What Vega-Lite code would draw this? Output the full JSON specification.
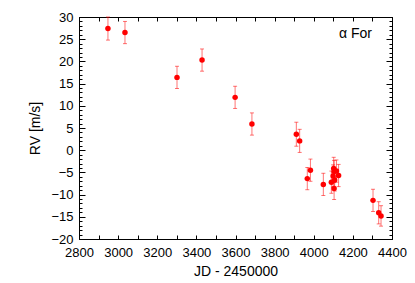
{
  "$schema": "https://vega.github.io/schema/vega-lite/v6.json",
  "width": 313,
  "height": 222,
  "autosize": "none",
  "padding": {"left": 79, "top": 17, "right": 23, "bottom": 44},
  "background": "white",
  "config": {
    "view": {"stroke": "black", "strokeWidth": 1},
    "font": "Liberation Sans",
    "axis": {
      "domainColor": "black",
      "tickColor": "black",
      "labelColor": "black",
      "titleColor": "black",
      "labelFont": "Liberation Sans",
      "titleFont": "Liberation Sans",
      "labelFontSize": 13,
      "titleFontSize": 14,
      "titleFontWeight": "normal",
      "grid": false
    }
  },
  "title": {
    "text": "α For",
    "anchor": "end",
    "frame": "group",
    "orient": "top",
    "offset": -30,
    "dx": -20,
    "fontSize": 14,
    "fontWeight": "normal",
    "font": "Liberation Sans",
    "color": "black"
  },
  "data": {
    "values": [
      {"jd": 2948, "rv": 27.4, "lo": 24.8, "hi": 30.0},
      {"jd": 3035, "rv": 26.5, "lo": 24.0, "hi": 29.0},
      {"jd": 3301, "rv": 16.4, "lo": 13.9, "hi": 18.9},
      {"jd": 3429, "rv": 20.3, "lo": 17.8, "hi": 22.8},
      {"jd": 3598, "rv": 11.9, "lo": 9.4, "hi": 14.4},
      {"jd": 3684, "rv": 5.9, "lo": 3.4, "hi": 8.4},
      {"jd": 3911, "rv": 3.6, "lo": 0.9, "hi": 6.3},
      {"jd": 3928, "rv": 2.1, "lo": -0.5, "hi": 4.7},
      {"jd": 3967, "rv": -6.4, "lo": -8.9, "hi": -3.9},
      {"jd": 3983, "rv": -4.5, "lo": -7.0, "hi": -2.0},
      {"jd": 4049, "rv": -7.7, "lo": -10.2, "hi": -5.2},
      {"jd": 4090, "rv": -7.2, "lo": -9.7, "hi": -4.7},
      {"jd": 4099, "rv": -5.8, "lo": -8.3, "hi": -3.3},
      {"jd": 4102, "rv": -4.1, "lo": -6.6, "hi": -1.6},
      {"jd": 4104, "rv": -4.8, "lo": -7.3, "hi": -2.3},
      {"jd": 4104, "rv": -8.6, "lo": -11.1, "hi": -6.1},
      {"jd": 4107, "rv": -6.7, "lo": -9.2, "hi": -4.2},
      {"jd": 4116, "rv": -4.7, "lo": -7.2, "hi": -2.2},
      {"jd": 4127, "rv": -5.7, "lo": -8.2, "hi": -3.2},
      {"jd": 4303, "rv": -11.3, "lo": -13.8, "hi": -8.8},
      {"jd": 4332, "rv": -14.1, "lo": -16.6, "hi": -11.6},
      {"jd": 4344, "rv": -14.8, "lo": -17.1, "hi": -12.5}
    ]
  },
  "layer": [
    {
      "mark": {"type": "errorbar", "ticks": {"size": 4, "thickness": 1}, "color": "#ff0000", "opacity": 0.55, "thickness": 1},
      "encoding": {
        "x": {
          "field": "jd", "type": "quantitative",
          "scale": {"domain": [2800, 4400], "nice": false, "zero": false},
          "axis": {
            "orient": "bottom",
            "title": "JD - 2450000",
            "values": [2800, 2900, 3000, 3100, 3200, 3300, 3400, 3500, 3600, 3700, 3800, 3900, 4000, 4100, 4200, 4300, 4400],
            "labelExpr": "datum.value % 200 === 0 ? datum.label : ''",
            "format": "d",
            "tickSize": -4,
            "labelPadding": 11,
            "titlePadding": 5,
            "labelFlush": false,
            "labelOverlap": false
          }
        },
        "y": {
          "field": "lo", "type": "quantitative",
          "scale": {"domain": [-20, 30], "nice": false, "zero": false},
          "axis": {
            "orient": "left",
            "title": "RV [m/s]",
            "values": [-20,-19,-18,-17,-16,-15,-14,-13,-12,-11,-10,-9,-8,-7,-6,-5,-4,-3,-2,-1,0,1,2,3,4,5,6,7,8,9,10,11,12,13,14,15,16,17,18,19,20,21,22,23,24,25,26,27,28,29,30],
            "labelExpr": "datum.value % 5 === 0 ? datum.label : ''",
            "tickSize": {"condition": {"test": "datum.value % 5 === 0", "value": -6}, "value": -3},
            "labelPadding": 12,
            "titlePadding": 8,
            "labelFlush": false,
            "labelOverlap": false
          }
        },
        "y2": {"field": "hi"}
      }
    },
    {
      "mark": {"type": "point", "filled": true, "color": "#ff0000", "size": 30, "opacity": 1},
      "encoding": {
        "x": {
          "field": "jd", "type": "quantitative",
          "axis": {
            "orient": "top",
            "title": null,
            "labels": false,
            "values": [2800, 2900, 3000, 3100, 3200, 3300, 3400, 3500, 3600, 3700, 3800, 3900, 4000, 4100, 4200, 4300, 4400],
            "tickSize": -4
          }
        },
        "y": {
          "field": "rv", "type": "quantitative",
          "axis": {
            "orient": "right",
            "title": null,
            "labels": false,
            "values": [-20,-19,-18,-17,-16,-15,-14,-13,-12,-11,-10,-9,-8,-7,-6,-5,-4,-3,-2,-1,0,1,2,3,4,5,6,7,8,9,10,11,12,13,14,15,16,17,18,19,20,21,22,23,24,25,26,27,28,29,30],
            "tickSize": {"condition": {"test": "datum.value % 5 === 0", "value": -6}, "value": -3}
          }
        }
      }
    }
  ],
  "resolve": {"axis": {"x": "independent", "y": "independent"}}
}
